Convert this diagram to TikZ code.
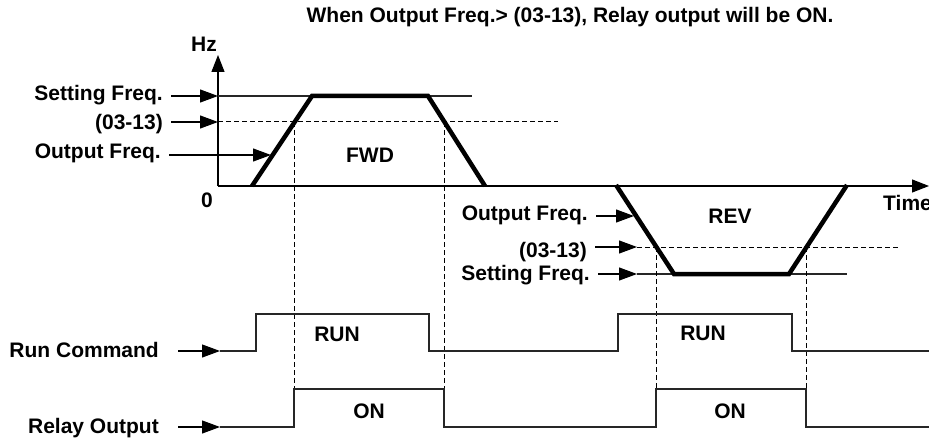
\documentclass[tikz,border=0pt]{standalone}
\usepackage{fontspec}
\setmainfont{Liberation Sans}
\usetikzlibrary{arrows.meta,positioning,calc}
\tikzset{
	lbl/.style={font=\fontsize{21}{24}\selectfont\bfseries, inner xsep=8pt, inner ysep=1pt},
	txt/.style={font=\fontsize{21}{24}\selectfont\bfseries, inner sep=0pt},
	lblarr/.style={-{Triangle[length=18pt,width=13pt]}, line width=1.1pt},
	axarr/.style={-{Triangle[length=17pt,width=13pt]}, line width=1.1pt},
	ramp/.style={line width=4.5pt},
	trace/.style={line width=1.1pt, black!85},
	guide/.style={dash pattern=on 5pt off 3pt, line width=1pt}
}

\begin{document}
\begin{tikzpicture}[x=1pt,y=-1pt]
	\useasboundingbox (0,0) rectangle (929,441);
	\node[txt, anchor=base] (title) at (570,23) {When Output Freq.> (03-13), Relay output will be ON.};
	% axes
	\coordinate (o) at (218,186);
	\coordinate (ytop) at (218,55);
	\coordinate (xend) at (929,186);
	\draw[axarr] (o)--(ytop);
	\draw[axarr] (o)--(xend);
	\node[txt, anchor=base] (hz) at (204,52) {Hz};
	\node[txt, anchor=base] (zero) at (207,207) {0};
	\node[txt, anchor=base west] (time) at (883,210) {Time};
	% forward run
	\coordinate (f1) at (252,186);
	\coordinate (f2) at (312,96);
	\coordinate (f3) at (428,96);
	\coordinate (f4) at (485,186);
	\coordinate (sfa) at (218,96);
	\coordinate (sfe) at (472,96);
	\coordinate (tfa) at (218,122);
	\coordinate (tfe) at (558,122);
	\coordinate (ofa) at (271,155);
	\node[lbl, anchor=base east] (setf) at (171,101) {Setting Freq.};
	\node[lbl, anchor=base east] (thrf) at (171,130) {(03-13)};
	\node[lbl, anchor=base east] (outf) at (169,159) {Output Freq.};
	\draw[lblarr] (setf.east |- sfa)--(sfa);
	\draw[lblarr] (thrf.east |- tfa)--(tfa);
	\draw[lblarr] (outf.east |- ofa)--(ofa);
	\draw[trace] (sfa)--(sfe);
	\draw[guide] (tfa)--(tfe);
	\draw[ramp] (f1)--(f2)--(f3)--(f4);
	\node[txt, anchor=base] (fwd) at (370,163) {FWD};
	% reverse run
	\coordinate (r1) at (616,185);
	\coordinate (r2) at (674,274);
	\coordinate (r3) at (789,274);
	\coordinate (r4) at (847,185);
	\coordinate (sra) at (637,274);
	\coordinate (sre) at (847,274);
	\coordinate (tra) at (637,247);
	\coordinate (tre) at (898,247);
	\coordinate (ora) at (634,216);
	\node[lbl, anchor=base east] (outr) at (596,220) {Output Freq.};
	\node[lbl, anchor=base east] (thrr) at (595,257) {(03-13)};
	\node[lbl, anchor=base east] (setr) at (598,280) {Setting Freq.};
	\draw[lblarr] (outr.east |- ora)--(ora);
	\draw[lblarr] (thrr.east |- tra)--(tra);
	\draw[lblarr] (setr.east |- sra)--(sra);
	\draw[trace] (sra)--(sre);
	\draw[guide] (tra)--(tre);
	\draw[ramp] (r1)--(r2)--(r3)--(r4);
	\node[txt, anchor=base] (rev) at (730,223) {REV};
	% switching points
	\draw[guide] (294,122)--(294,389);
	\draw[guide] (444,122)--(444,389);
	\draw[guide] (656,247)--(656,389);
	\draw[guide] (806,247)--(806,389);
	% run command and relay
	\coordinate (rca) at (220,351);
	\coordinate (rla) at (220,427);
	\node[lbl, anchor=base east] (runc) at (167,357) {Run Command};
	\node[lbl, anchor=base east] (rly) at (167,433) {Relay Output};
	\draw[lblarr, shorten <=11pt] (runc.east |- rca)--(rca);
	\draw[lblarr, shorten <=11pt] (rly.east |- rla)--(rla);
	\draw[trace] (rca)--(256,351)--(256,314)--(429,314)--(429,351)--(618,351)--(618,314)--(792,314)--(792,351)--(929,351);
	\draw[trace] (rla)--(294,427)--(294,389)--(444,389)--(444,427)--(656,427)--(656,389)--(806,389)--(806,427)--(929,427);
	\node[txt, anchor=base] (run1) at (337,341) {RUN};
	\node[txt, anchor=base] (run2) at (703,340) {RUN};
	\node[txt, anchor=base] (on1) at (369,418) {ON};
	\node[txt, anchor=base] (on2) at (730,418) {ON};
\end{tikzpicture}
\end{document}
